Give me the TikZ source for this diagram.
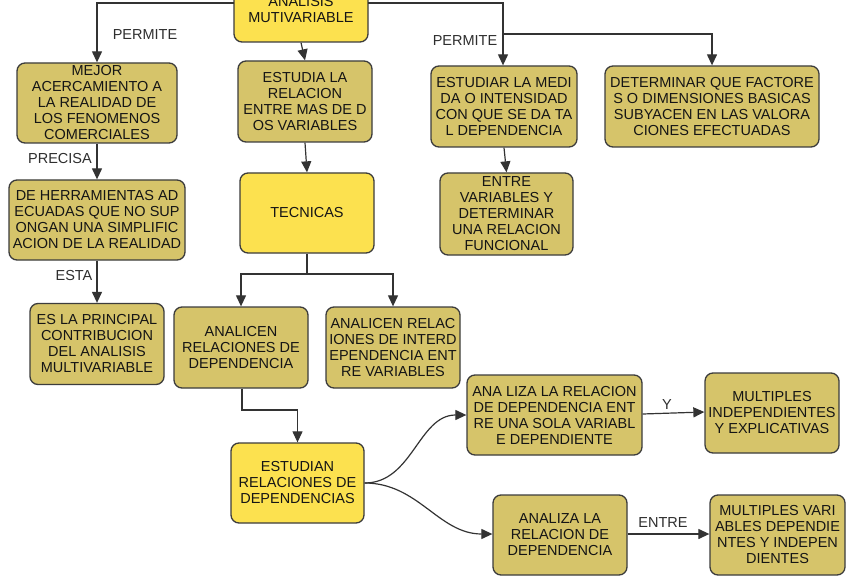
\documentclass[tikz,border=0pt]{standalone}
\usepackage{fontspec}
\setmainfont{Liberation Sans}
\usetikzlibrary{arrows.meta,calc}
\definecolor{khaki}{HTML}{D6C46A}
\definecolor{yel}{HTML}{FCE14F}
\definecolor{boxline}{HTML}{3C3C3C}
\definecolor{linec}{HTML}{333333}
\definecolor{textc}{HTML}{151515}
\definecolor{labelc}{HTML}{2E2E2E}
\tikzset{
  kbox/.style={draw=boxline, line width=1.3pt, rounded corners=8pt, fill=khaki,
    align=center, inner sep=0pt, text=textc, font=\fontsize{14.5}{16}\selectfont},
  ybox/.style={kbox, fill=yel},
  conn/.style={draw=linec, line width=1.2pt, -{Triangle[length=11pt,width=10pt]}},
  plain/.style={draw=linec, line width=1.2pt},
  lbl/.style={inner sep=0pt, text=labelc, font=\fontsize{14.5}{16}\selectfont}
}
\begin{document}
\begin{tikzpicture}[x=1pt,y=-1pt]
\useasboundingbox (0,0) rectangle (850,577);
\fill[white] (0,0) rectangle (850,577);

% nodes
\node[ybox, minimum width=134pt, minimum height=64pt] (top) at (301,10) {ANALISIS\\MUTIVARIABLE};
\node[kbox, minimum width=160pt, minimum height=80pt] (A1) at (97,103) {MEJOR\\ACERCAMIENTO A\\LA REALIDAD DE\\LOS FENOMENOS\\COMERCIALES};
\node[kbox, minimum width=176pt, minimum height=80pt] (A2) at (97,220) {DE HERRAMIENTAS AD\\ECUADAS QUE NO SUP\\ONGAN UNA SIMPLIFIC\\ACION DE LA REALIDAD};
\node[kbox, minimum width=134pt, minimum height=81pt] (A3) at (97,344) {ES LA PRINCIPAL\\CONTRIBUCION\\DEL ANALISIS\\MULTIVARIABLE};
\node[kbox, minimum width=134pt, minimum height=81pt] (B1) at (305,101.5) {ESTUDIA LA\\RELACION\\ENTRE MAS DE D\\OS VARIABLES};
\node[ybox, minimum width=134pt, minimum height=80pt] (TEC) at (307,213) {TECNICAS};
\node[kbox, minimum width=134pt, minimum height=81pt] (C1) at (241,347.5) {ANALICEN\\RELACIONES DE\\DEPENDENCIA};
\node[kbox, minimum width=134pt, minimum height=81pt] (C2) at (393,347.5) {ANALICEN RELAC\\IONES DE INTERD\\EPENDENCIA ENT\\RE VARIABLES};
\node[ybox, minimum width=133pt, minimum height=80pt] (D) at (297.5,483) {ESTUDIAN\\RELACIONES DE\\DEPENDENCIAS};
\node[kbox, minimum width=175pt, minimum height=80pt] (E1) at (554.5,415) {ANA LIZA LA RELACION\\DE DEPENDENCIA ENT\\RE UNA SOLA VARIABL\\E DEPENDIENTE};
\node[kbox, minimum width=134pt, minimum height=80pt] (F1) at (772,413) {MULTIPLES\\INDEPENDIENTES\\Y EXPLICATIVAS};
\node[kbox, minimum width=134pt, minimum height=80pt] (E2) at (560,535) {ANALIZA LA\\RELACION DE\\DEPENDENCIA};
\node[kbox, minimum width=135pt, minimum height=80pt] (F2) at (777.5,535) {MULTIPLES VARI\\ABLES DEPENDIE\\NTES Y INDEPEN\\DIENTES};
\node[kbox, minimum width=146pt, minimum height=81pt] (G1) at (504,106.5) {ESTUDIAR LA MEDI\\DA O INTENSIDAD\\CON QUE SE DA TA\\L DEPENDENCIA};
\node[kbox, minimum width=214pt, minimum height=81pt] (G2) at (712,106.5) {DETERMINAR QUE FACTORE\\S O DIMENSIONES BASICAS\\SUBYACEN EN LAS VALORA\\CIONES EFECTUADAS};
\node[kbox, minimum width=133pt, minimum height=82pt] (G3) at (506.5,214) {ENTRE\\VARIABLES Y\\DETERMINAR\\UNA RELACION\\FUNCIONAL};

% bend coordinates
\coordinate (tl) at (234,3);
\coordinate (tlc) at (97,3);
\coordinate (tr) at (368,3);
\coordinate (trc) at (503,3);
\coordinate (br) at (503,34);
\coordinate (brc) at (712,34);
\coordinate (tecb) at (307,274);
\coordinate (tecl) at (241,274);
\coordinate (tecr) at (393,274);
\coordinate (c1b) at (242,410);
\coordinate (c1r) at (297.5,410);

% connectors
\draw[conn] (tl) -- (tlc) -- (A1.north);
\draw[conn] (tr) -- (trc) -- (G1.north -| trc);
\draw[conn] (br) -- (brc) -- (G2.north);
\draw[conn] (top.south) -- (B1.north);
\draw[conn] (B1.south) -- (TEC.north);
\draw[conn] (A1.south) -- (A2.north);
\draw[conn] (A2.south) -- (A3.north);
\draw[plain] (TEC.south) -- (tecb);
\draw[conn] (tecb) -- (tecl) -- (C1.north);
\draw[conn] (tecb) -- (tecr) -- (C2.north);
\draw[conn] (C1.south -| c1b) -- (c1b) -- (c1r) -- (D.north);
\draw[conn] (D.east) to[out=0,in=180] (E1.west);
\draw[conn] (D.east) to[out=0,in=180] ($(E2.west)+(0,-1)$);
\draw[conn] ($(E1.east)+(0,-1)$) -- ($(F1.west)+(0,-1)$);
\draw[conn] ($(E2.east)+(0,-1)$) -- ($(F2.west)+(0,-1)$);
\draw[conn] (G1.south) -- (G3.north);

% labels
\node[lbl] (lp1) at (145,35) {PERMITE};
\node[lbl] (lp2) at (465,41) {PERMITE};
\node[lbl] (lpr) at (60,159) {PRECISA};
\node[lbl] (les) at (74,276) {ESTA};
\node[lbl] (ly) at (667,405) {Y};
\node[lbl] (len) at (663,523) {ENTRE};
\end{tikzpicture}
\end{document}
